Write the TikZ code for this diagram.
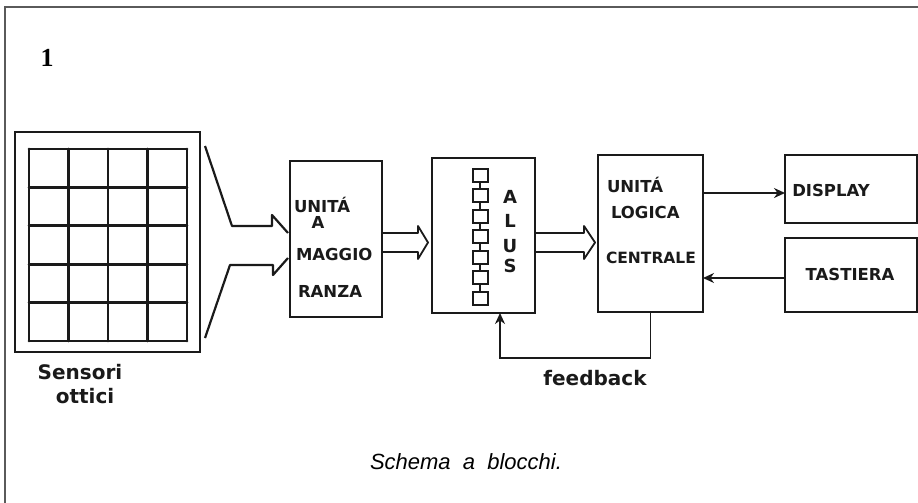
\documentclass[tikz,border=0pt]{standalone}
\usepackage{fontspec}
\setmainfont{Liberation Sans}
\newfontfamily\numfont{Liberation Serif}
\newfontfamily\handfont{DejaVu Sans}
\usepackage{tikz}
\usetikzlibrary{arrows.meta,positioning,calc}
\definecolor{cInk}  {HTML}{1A1A1A}
\definecolor{cFrame}{HTML}{5A5A5A}
\tikzset{
  blk/.style   ={draw=cInk,line width=2.6pt,anchor=north west},
  cella/.style ={draw=cInk,line width=2pt,minimum width=15pt,minimum height=13pt,inner sep=0pt},
  gridln/.style={draw=cInk,line width=2.8pt,line cap=round},
  hand/.style  ={font=\handfont\bfseries\fontsize{16.5}{18}\selectfont,inner sep=0pt,text=cInk},
  handlc/.style={font=\handfont\bfseries\fontsize{20}{22}\selectfont,inner sep=0pt,text=cInk},
  sig/.style   ={-{Stealth[length=11pt,width=10pt]},draw=cInk,line width=1.8pt},
  inarr/.style ={draw=cInk,line width=2.2pt,line join=round},
  bus/.style   ={draw=cInk,line width=1.8pt,line join=round},
  frame/.style ={draw=cFrame,line width=1.6pt},
}

\begin{document}
\begin{tikzpicture}[x=1pt,y=1pt,every node/.style={outer sep=0pt}]
\useasboundingbox (0,0) rectangle (918,-503);
\draw[frame] (5,-503) -- (5,-7) -- (918,-7);

\node[font=\numfont\bfseries\fontsize{26}{28}\selectfont,inner sep=0pt] (num) at (47,-58) {1};

% sensori ottici
\node[blk,minimum width=185,minimum height=220] (sens) at (15,-132) {};
\foreach \i in {0,...,4}{
  \draw[gridln] (29+39.5*\i,-149) -- (29+39.5*\i,-341);
}
\foreach \j in {0,...,5}{
  \draw[gridln] (29,-149-38.4*\j) -- (187,-149-38.4*\j);
}
\node[handlc,align=center] (lbl) at (80,-384) {Sensori\\[2pt]\hspace*{10pt}ottici};

% blocchi
\node[blk,minimum width=92,minimum height=156] (magg) at (290,-161) {};
\node[blk,minimum width=103,minimum height=155] (alus) at (432,-158) {};
\node[blk,minimum width=105,minimum height=157] (ulc) at (598,-155) {};
\node[blk,minimum width=132,minimum height=68] (disp) at (785,-155) {};
\node[blk,minimum width=132,minimum height=74] (tast) at (785,-238) {};

\node[hand,anchor=base west] (mg1) at (294,-212) {UNITÁ};
\node[hand,anchor=base] (mg2) at (318,-228) {A};
\node[hand,anchor=base west] (mg3) at (296,-260) {MAGGIO};
\node[hand,anchor=base west] (mg4) at (298,-297) {RANZA};

\foreach \k in {1,...,7}{
  \node[cella] (c\k) at (480,-154.5-20.5*\k) {};
}
\foreach \a/\b in {1/2,2/3,3/4,4/5,5/6,6/7}{
  \draw[cInk,line width=2pt] (c\a.south) -- (c\b.north);
}
\foreach \y/\n/\lab in {203/la/A, 227/ll/L, 252/lu/U, 272/ls/S}{
  \node[hand,font=\handfont\bfseries\fontsize{18}{20}\selectfont,anchor=base] (\n) at (510,-\y) {\lab};
}

\node[hand,anchor=base west] (ul1) at (607,-192) {UNITÁ};
\node[hand,anchor=base west] (ul2) at (611,-218) {LOGICA};
\node[hand,font=\handfont\bfseries\fontsize{15.5}{18}\selectfont,anchor=base west] (ul3) at (606,-263) {CENTRALE};

\node[hand] (dtx) at (831,-190) {DISPLAY};
\node[hand] (ttx) at (850,-274) {TASTIERA};

% collegamenti
\coordinate (s1) at (205,-146);
\coordinate (k1) at (232,-226);
\coordinate (s2) at (205,-338);
\coordinate (k2) at (230,-265);
\draw[inarr] (s1) -- (k1) -- ($(magg.west |- k1)+(-18,0)$) -- ++(0,11) -- ($(magg.west |- k1)+(-2,-7)$);
\draw[inarr] (s2) -- (k2) -- ($(magg.west |- k2)+(-17,0)$) -- ++(0,-10) -- ($(magg.west |- k2)+(-2,7)$);

\coordinate (by) at (0,-242.5);
\draw[bus] ($(magg.east |- by)+(0,9.5)$) -- ($(alus.west |- by)+(-14,9.5)$) -- ++(0,7)
  -- ($(alus.west |- by)+(-4,0)$) -- ($(alus.west |- by)+(-14,-16.5)$) -- ++(0,7)
  -- ($(magg.east |- by)+(0,-9.5)$);
\draw[bus] ($(alus.east |- by)+(0,9.5)$) -- ($(ulc.west |- by)+(-14,9.5)$) -- ++(0,7)
  -- ($(ulc.west |- by)+(-3,0)$) -- ($(ulc.west |- by)+(-14,-16.5)$) -- ++(0,7)
  -- ($(alus.east |- by)+(0,-9.5)$);

\coordinate (dy) at (0,-193);
\coordinate (ty) at (0,-278);
\draw[sig] (ulc.east |- dy) -- (disp.west |- dy);
\draw[sig] (tast.west |- ty) -- (ulc.east |- ty);

\coordinate (fb) at (500,-358);
\draw[sig] (ulc.south) |- (fb) -- (alus.south -| fb);
\node[handlc] (fbl) at (595,-378) {feedback};

\node[font=\itshape\fontsize{22}{24}\selectfont,inner sep=0pt] (capt) at (466,-462) {Schema\ \ a\ \ blocchi.};
\end{tikzpicture}
\end{document}
